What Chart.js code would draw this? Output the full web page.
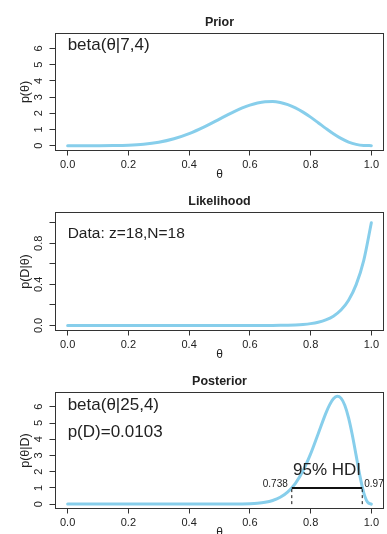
<!DOCTYPE html>
<html>
<head>
<meta charset="utf-8">
<script src="https://cdn.jsdelivr.net/npm/chart.js@4.4.0/dist/chart.umd.min.js"></script>
<style>
  body { margin: 0; background: #fff; }
  #wrap { position: relative; width: 387px; height: 534px; overflow: hidden; }
  canvas { position: absolute; left: 0; }
</style>
</head>
<body>
<div id="wrap">
  <canvas id="grafico-prior" width="387" height="200" style="top:0px"></canvas>
  <canvas id="grafico-likelihood" width="387" height="200" style="top:178px"></canvas>
  <canvas id="grafico-posterior" width="387" height="200" style="top:356px"></canvas>
</div>
<script>
// theta values
const thetaGrid = [0, 0.05, 0.1, 0.15, 0.2, 0.25, 0.3, 0.35, 0.4, 0.45, 0.5, 0.525, 0.55, 0.575, 0.6, 0.625, 0.65, 0.675, 0.7, 0.725, 0.75, 0.775, 0.8, 0.825, 0.85, 0.875, 0.9, 0.925, 0.95, 0.975, 1.0];
const priorDensity = [0, 0, 0.0006, 0.006, 0.028, 0.087, 0.21, 0.424, 0.743, 1.16, 1.641, 1.885, 2.119, 2.331, 2.508, 2.64, 2.716, 2.727, 2.668, 2.537, 2.336, 2.073, 1.762, 1.419, 1.069, 0.736, 0.446, 0.222, 0.077, 0.011, 0];
const likelihood = [0, 0, 0, 0, 0, 0, 0, 0, 0, 0, 0, 0.00001, 0.00002, 0.00005, 0.0001, 0.0002, 0.0004, 0.0008, 0.0016, 0.0031, 0.0056, 0.0102, 0.018, 0.0313, 0.0537, 0.0904, 0.1501, 0.2458, 0.3972, 0.634, 1.0];

const postTheta = [0, 0.1, 0.2, 0.3, 0.4, 0.45, 0.5, 0.525, 0.55, 0.575, 0.6, 0.625, 0.65, 0.675, 0.7, 0.725, 0.75, 0.775, 0.8, 0.825, 0.85, 0.8625, 0.875, 0.8875, 0.9, 0.9125, 0.925, 0.9375, 0.95, 0.9625, 0.975, 0.9875, 1.0];
const postDensity = [0, 0, 0, 0, 0, 0.0001, 0.0006, 0.0017, 0.0044, 0.0107, 0.0248, 0.0545, 0.1136, 0.225, 0.424, 0.758, 1.284, 2.056, 3.094, 4.339, 5.593, 6.115, 6.49, 6.649, 6.533, 6.094, 5.32, 4.248, 2.99, 1.726, 0.697, 0.118, 0];

// HDI of the posterior
const hdiLow = 0.738;
const hdiHigh = 0.97;
const hdiHeight = 1.0;
const hdiLabels = ["0.738", "0.97"];

// axis ticks
const xTicks = [0, 0.2, 0.4, 0.6, 0.8, 1.0];
const xTickLabels = ["0.0", "0.2", "0.4", "0.6", "0.8", "1.0"];
const densityTicks = [0, 1, 2, 3, 4, 5, 6];
const densityTickLabels = ["0", "1", "2", "3", "4", "5", "6"];
const likeTicks = [0, 0.2, 0.4, 0.6, 0.8, 1.0];
const likeTickLabels = ["0.0", "", "0.4", "", "0.8", ""];

const FONT = "'Liberation Sans', Arial, sans-serif";
const CURVE = "#87CEEB";
const INK = "#222";
const CANVAS_H = 200;
Chart.defaults.font.family = FONT;

function toPoints(xs, ys) {
  return xs.map((x, i) => ({ x: x, y: ys[i] }));
}

// plugin that draws the R-style box, titles, rotated y labels and notes
function decorPlugin(cfg) {
  return {
    id: "decor",
    afterDraw(chart) {
      const ctx = chart.ctx;
      const a = chart.chartArea;
      const xs = chart.scales.x;
      const ys = chart.scales.y;
      ctx.save();
      ctx.strokeStyle = "#333";
      ctx.lineWidth = 1;
      ctx.strokeRect(a.left, a.top, a.right - a.left, a.bottom - a.top);

      ctx.fillStyle = INK;
      ctx.textAlign = "center";
      ctx.textBaseline = "middle";
      ctx.font = "bold 12.5px " + FONT;
      ctx.fillText(cfg.title, (a.left + a.right) / 2, a.top - 11);

      ctx.font = "12px " + FONT;
      ctx.fillText("θ", (a.left + a.right) / 2, a.bottom + 24.5);

      // y tick labels, rotated like R does
      ctx.font = "11px " + FONT;
      cfg.yTicks.forEach((v, i) => {
        if (!cfg.yTickLabels[i]) return;
        ctx.save();
        ctx.translate(38.5, ys.getPixelForValue(v));
        ctx.rotate(-Math.PI / 2);
        ctx.fillText(cfg.yTickLabels[i], 0, 0);
        ctx.restore();
      });

      ctx.save();
      ctx.font = "12.5px " + FONT;
      ctx.translate(26, (a.top + a.bottom) / 2);
      ctx.rotate(-Math.PI / 2);
      ctx.fillText(cfg.yTitle, 0, 0);
      ctx.restore();

      // annotations
      (cfg.notes || []).forEach((n) => {
        ctx.font = n.size + "px " + FONT;
        ctx.textAlign = n.align || "left";
        const px = xs.getPixelForValue(n.x) + (n.dx || 0);
        const py = n.y === undefined ? a.top + n.top : ys.getPixelForValue(n.y) + (n.dy || 0);
        ctx.fillText(n.text, px, py);
      });
      ctx.restore();
    },
  };
}

function makePanel(canvasId, cfg) {
  const ctx = document.getElementById(canvasId).getContext("2d");
  return new Chart(ctx, {
    type: "line",
    data: { datasets: cfg.datasets },
    options: {
      responsive: false,
      animation: false,
      events: [],
      devicePixelRatio: 1,
      layout: { padding: { top: cfg.areaTop, left: 0, right: 3.5, bottom: 0 } },
      plugins: { legend: { display: false }, tooltip: { enabled: false }, title: { display: false } },
      elements: { point: { radius: 0 } },
      scales: {
        x: {
          type: "linear",
          min: -0.04,
          max: 1.04,
          afterBuildTicks: (s) => { s.ticks = xTicks.map((v) => ({ value: v })); },
          afterFit: (s) => { s.height = CANVAS_H - cfg.areaBottom; },
          ticks: {
            callback: (v, i) => xTickLabels[i],
            autoSkip: false,
            maxRotation: 0,
            padding: 3,
            color: INK,
            font: { size: 11 },
          },
          grid: { drawOnChartArea: false, drawTicks: true, tickLength: 5, color: "#333" },
          border: { display: false },
        },
        y: {
          type: "linear",
          min: cfg.yMin,
          max: cfg.yMax,
          afterBuildTicks: (s) => { s.ticks = cfg.yTicks.map((v) => ({ value: v })); },
          afterFit: (s) => { s.width = 55.5; },
          ticks: { display: false },
          grid: { drawOnChartArea: false, drawTicks: true, tickLength: 6, color: "#333" },
          border: { display: false },
        },
      },
    },
    plugins: [decorPlugin(cfg)],
  });
}

function curve(points) {
  return {
    data: points,
    borderColor: CURVE,
    borderWidth: 3,
    borderCapStyle: "round",
    cubicInterpolationMode: "monotone",
    fill: false,
    order: 2,
  };
}

makePanel("grafico-prior", {
  title: "Prior",
  yTitle: "p(θ)",
  areaTop: 33.5,
  areaBottom: 150.5,
  yMin: -0.3,
  yMax: 6.93,
  yTicks: densityTicks,
  yTickLabels: densityTickLabels,
  datasets: [curve(toPoints(thetaGrid, priorDensity))],
  notes: [{ text: "beta(θ|7,4)", x: 0, top: 11.5, size: 17 }],
});

makePanel("grafico-likelihood", {
  title: "Likelihood",
  yTitle: "p(D|θ)",
  areaTop: 34.5,
  areaBottom: 152.5,
  yMin: -0.049,
  yMax: 1.099,
  yTicks: likeTicks,
  yTickLabels: likeTickLabels,
  datasets: [curve(toPoints(thetaGrid, likelihood))],
  notes: [{ text: "Data: z=18,N=18", x: 0, top: 21.5, size: 15.5 }],
});

makePanel("grafico-posterior", {
  title: "Posterior",
  yTitle: "p(θ|D)",
  areaTop: 36.5,
  areaBottom: 152.5,
  yMin: -0.27,
  yMax: 6.88,
  yTicks: densityTicks,
  yTickLabels: densityTickLabels,
  datasets: [
    curve(toPoints(postTheta, postDensity)),
    { data: [{ x: hdiLow, y: hdiHeight }, { x: hdiHigh, y: hdiHeight }], borderColor: "#111", borderWidth: 2, order: 1 },
    { data: [{ x: hdiLow, y: 0 }, { x: hdiLow, y: hdiHeight }], borderColor: "#111", borderWidth: 1, borderDash: [3, 3], order: 1 },
    { data: [{ x: hdiHigh, y: 0 }, { x: hdiHigh, y: hdiHeight }], borderColor: "#111", borderWidth: 1, borderDash: [3, 3], order: 1 },
  ],
  notes: [
    { text: "beta(θ|25,4)", x: 0, top: 12.5, size: 17 },
    { text: "p(D)=0.0103", x: 0, top: 39.5, size: 17 },
    { text: "95% HDI", x: (hdiLow + hdiHigh) / 2, y: hdiHeight, dy: -18, size: 17, align: "center" },
    { text: hdiLabels[0], x: hdiLow, y: hdiHeight, dx: -4, dy: -4, size: 10, align: "right" },
    { text: hdiLabels[1], x: hdiHigh, y: hdiHeight, dx: 2, dy: -4, size: 10, align: "left" },
  ],
});
</script>
</body>
</html>
